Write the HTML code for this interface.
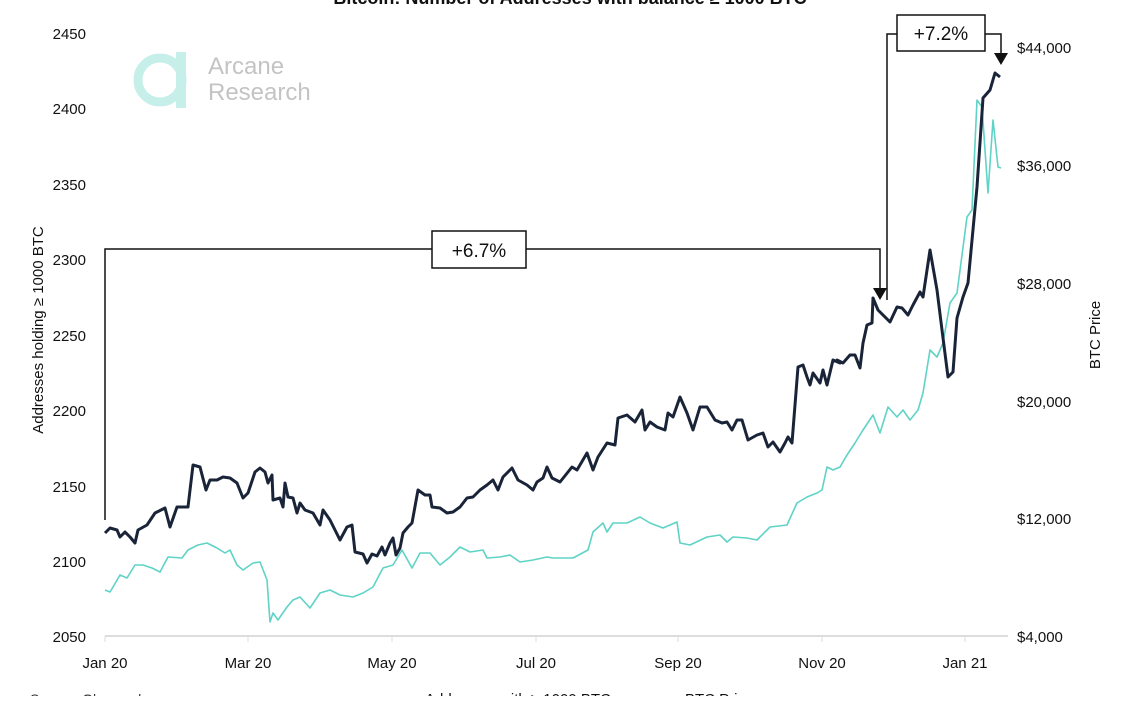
<!DOCTYPE html>
<html><head><meta charset="utf-8"><style>
body{margin:0;background:#fff;width:1140px;height:696px;overflow:hidden;font-family:"Liberation Sans",sans-serif}
</style></head><body>
<svg width="1140" height="696" xmlns="http://www.w3.org/2000/svg" font-family="Liberation Sans, sans-serif">
<text x="570" y="4" text-anchor="middle" font-size="18" font-weight="bold" fill="#111">Bitcoin: Number of Addresses with balance ≥ 1000 BTC</text>
<!-- logo -->
<g opacity="0.35">
<circle cx="160" cy="80" r="22" fill="none" stroke="#5fd3c6" stroke-width="9"/>
<rect x="176" y="52" width="10" height="56" fill="#5fd3c6"/>
<text x="208" y="74" font-size="24" fill="#555">Arcane</text>
<text x="208" y="100" font-size="24" fill="#555">Research</text>
</g>
<!-- axes -->
<line x1="105" y1="636" x2="1008" y2="636" stroke="#ddd" stroke-width="2"/>
<g stroke="#ddd"><line x1="105" y1="636" x2="105" y2="642"/><line x1="248" y1="636" x2="248" y2="642"/><line x1="392" y1="636" x2="392" y2="642"/><line x1="536" y1="636" x2="536" y2="642"/><line x1="678" y1="636" x2="678" y2="642"/><line x1="822" y1="636" x2="822" y2="642"/><line x1="965" y1="636" x2="965" y2="642"/></g>
<g font-size="15" fill="#111" text-anchor="end">
<text x="86" y="39">2450</text><text x="86" y="114">2400</text><text x="86" y="190">2350</text><text x="86" y="265">2300</text><text x="86" y="341">2250</text><text x="86" y="416">2200</text><text x="86" y="492">2150</text><text x="86" y="567">2100</text><text x="86" y="642">2050</text>
</g>
<g font-size="15" fill="#111">
<text x="1017" y="53">$44,000</text><text x="1017" y="171">$36,000</text><text x="1017" y="289">$28,000</text><text x="1017" y="407">$20,000</text><text x="1017" y="524">$12,000</text><text x="1017" y="642">$4,000</text>
</g>
<g font-size="15" fill="#111" text-anchor="middle">
<text x="105" y="668">Jan 20</text><text x="248" y="668">Mar 20</text><text x="392" y="668">May 20</text><text x="536" y="668">Jul 20</text><text x="678" y="668">Sep 20</text><text x="822" y="668">Nov 20</text><text x="965" y="668">Jan 21</text>
</g>
<text transform="translate(43,330) rotate(-90)" text-anchor="middle" font-size="15" fill="#111">Addresses holding ≥ 1000 BTC</text>
<text transform="translate(1100,335) rotate(-90)" text-anchor="middle" font-size="15" fill="#111">BTC Price</text>
<text x="30" y="704" font-size="14" fill="#333">Source: Glassnode</text>
<line x1="400" y1="699" x2="420" y2="699" stroke="#1a2438" stroke-width="3"/>
<text x="425" y="704" font-size="15" fill="#111">Addresses with ≥ 1000 BTC</text>
<line x1="660" y1="699" x2="680" y2="699" stroke="#5fd3c6" stroke-width="2"/>
<text x="685" y="704" font-size="15" fill="#111">BTC Price</text>
<!-- teal -->
<polyline fill="none" stroke="#5fd3c6" stroke-width="1.6" stroke-linejoin="round" points="105,590 110,592 113,587 120,575 127,578 135,565 143,565 152,568 160,572 168,557 182,558 188,550 198,545 207,543 217,548 225,553 230,550 237,565 243,570 253,563 260,562 267,580 270,622 273,613 278,620 287,607 293,600 300,597 310,608 320,593 330,590 340,595 353,597 363,593 373,587 383,568 393,565 402,550 412,568 420,553 430,553 440,565 450,557 460,547 470,552 483,550 487,558 500,557 510,555 520,562 533,560 547,557 553,558 573,558 588,550 593,532 603,523 607,532 613,523 627,523 640,517 650,523 663,528 677,522 680,543 690,545 707,537 720,535 727,542 733,537 747,538 757,540 770,527 787,525 797,503 807,497 817,493 822,490 827,467 833,470 840,467 847,455 855,443 863,430 873,415 880,433 888,407 897,417 903,410 910,420 918,410 923,393 930,350 937,357 943,343 950,303 957,293 967,217 972,210 977,100 982,107 988,193 993,120 998,167 1001,168"/>
<!-- dark -->
<polyline fill="none" stroke="#1a2438" stroke-width="3" stroke-linejoin="round" points="105,533 110,528 117,530 120,537 125,532 130,537 135,543 138,530 147,525 155,513 165,508 170,527 177,507 188,507 193,465 200,467 206,490 210,480 217,480 223,477 230,478 237,483 243,498 248,493 255,472 260,468 265,472 268,483 272,475 273,500 280,498 283,507 285,483 288,497 293,498 297,513 300,503 305,510 313,513 320,525 323,510 330,520 340,540 347,527 352,525 355,552 363,554 367,563 372,554 377,556 382,547 385,555 390,543 393,538 396,555 400,548 403,533 408,527 412,523 418,490 425,495 430,495 432,507 440,508 447,513 453,512 460,507 467,498 473,497 480,490 487,485 493,480 498,490 503,477 512,468 518,480 527,485 533,490 537,482 543,478 547,467 552,478 560,482 572,467 577,470 587,453 593,470 598,457 607,443 615,445 618,418 627,415 635,422 642,410 645,430 650,422 657,427 665,430 668,413 673,417 680,397 687,413 693,430 700,407 707,407 715,420 722,423 727,422 732,430 737,420 742,420 748,440 757,435 763,433 768,447 773,442 780,452 785,443 788,437 792,443 798,367 803,365 807,377 810,385 813,373 820,383 823,370 827,385 833,360 840,363 837,360 843,363 850,355 855,355 860,368 863,343 867,325 872,323 873,298 878,310 883,315 890,322 897,307 902,308 908,315 913,305 920,292 923,297 930,250 937,290 942,330 948,377 953,372 957,318 963,297 968,283 977,187 983,98 990,90 995,73 1000,77"/>
<!-- annotations -->
<g stroke="#111" stroke-width="1.5" fill="none">
<polyline points="105,520 105,249 432,249"/>
<polyline points="526,249 880,249 880,290"/>
<polyline points="887,300 887,34 897,34"/>
<polyline points="985,34 1001,34 1001,55"/>
</g>
<polygon points="873,288 887,288 880,300" fill="#111"/>
<polygon points="994,53 1008,53 1001,65" fill="#111"/>
<rect x="432" y="231" width="94" height="37" fill="#fff" stroke="#111" stroke-width="1.5"/>
<text x="479" y="257" text-anchor="middle" font-size="19" fill="#111">+6.7%</text>
<rect x="897" y="15" width="88" height="36" fill="#fff" stroke="#111" stroke-width="1.5"/>
<text x="941" y="40" text-anchor="middle" font-size="19" fill="#111">+7.2%</text>
</svg>
</body></html>
